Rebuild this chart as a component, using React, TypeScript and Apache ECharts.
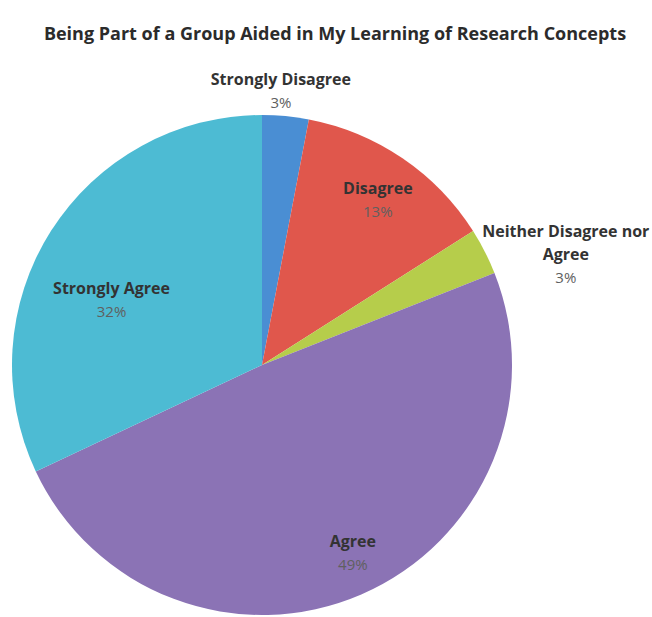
import React, { useEffect, useRef } from "react";
import * as echarts from "echarts";

const TITLE = "Being Part of a Group Aided in My Learning of Research Concepts";
const categories = ["Strongly Disagree", "Disagree", "Neither Disagree nor Agree", "Agree", "Strongly Agree"];
const percentages = [3, 13, 3, 49, 32];

const colors = ["#4a8ed3", "#e0574c", "#b6cd4b", "#8b73b5", "#4dbbd3"];
// label placement: fraction of radius along slice mid-angle, plus small nudge (px)
const labelRadiusFrac = [1.1, 0.81, 1.31, 0.835, 0.656];
const labelNudge: [number, number][] = [[-7, -1], [2, 2], [12, 38], [8, -4], [-12, 22]];

const CX = 262;
const CY = 365;
const R = 250;

export default function App() {
  const ref = useRef<HTMLDivElement>(null);
  useEffect(() => {
    document.body.style.margin = "0";
    const chart = echarts.init(ref.current!, null, { renderer: "svg" });
    const total = percentages.reduce((a, b) => a + b, 0);
    const mids: number[] = [];
    let acc = 0;
    percentages.forEach((v) => {
      mids.push(((acc + v / 2) / total) * Math.PI * 2);
      acc += v;
    });
    chart.setOption({
      animation: false,
      backgroundColor: "#ffffff",
      title: {
        text: TITLE,
        left: 330,
        top: 19,
        textAlign: "center",
        textStyle: {
          fontFamily: "Open Sans",
          fontSize: 18,
          fontWeight: "bold",
          color: "#2b2b2b",
        },
      },
      series: [
        {
          type: "pie",
          center: [CX, CY],
          radius: R,
          startAngle: 90,
          clockwise: true,
          avoidLabelOverlap: false,
          itemStyle: { borderWidth: 0 },
          data: categories.map((c, i) => ({
            name: c,
            value: percentages[i],
            itemStyle: { color: colors[i] },
          })),
          label: {
            show: true,
            position: "inside",
            formatter: (p: any) =>
              "{n|" + String(p.name).replace(" nor ", " nor\n") + "}\n{p|" + Math.round(p.percent) + "%}",
            rich: {
              n: {
                fontFamily: "Open Sans",
                fontSize: 16,
                fontWeight: "bold",
                color: "#333333",
                lineHeight: 23,
                align: "center",
              },
              p: {
                fontFamily: "Open Sans",
                fontSize: 15,
                color: "#606060",
                lineHeight: 23,
                align: "center",
              },
            },
          },
          labelLine: { show: false },
          labelLayout: (params: any) => {
            const i = params.dataIndex;
            const a = mids[i];
            const d = labelRadiusFrac[i] * R;
            return {
              x: CX + d * Math.sin(a) + labelNudge[i][0],
              y: CY - d * Math.cos(a) + labelNudge[i][1],
              align: "center",
              verticalAlign: "middle",
            };
          },
        },
      ],
    });
    return () => chart.dispose();
  }, []);
  return <div ref={ref} style={{ width: 652, height: 617 }} />;
}
